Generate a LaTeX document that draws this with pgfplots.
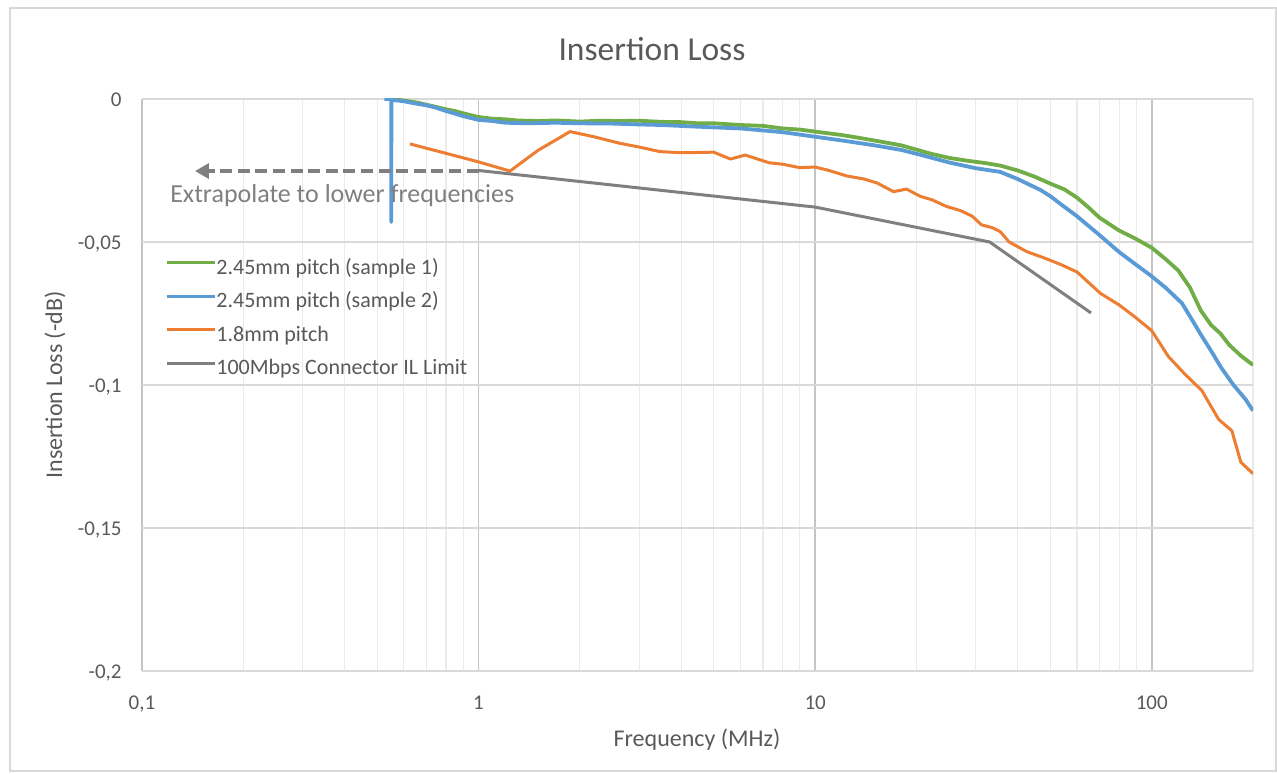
\documentclass[border=0pt]{standalone}
\usepackage{fontspec}
\setmainfont{Carlito}
\usepackage{pgfplots}
\pgfplotsset{compat=1.18}
\usetikzlibrary{arrows.meta}
\definecolor{cgreen}{HTML}{70AD47}
\definecolor{cblue}{HTML}{5B9BD5}
\definecolor{corange}{HTML}{ED7D31}
\definecolor{cgray}{HTML}{7F7F7F}
\definecolor{ctext}{HTML}{595959}
\definecolor{cgridmaj}{HTML}{C4C4C4}
\definecolor{cgridy}{HTML}{D9D9D9}
\definecolor{cgridmin}{HTML}{EBEBEB}
\begin{document}
\begin{tikzpicture}
\useasboundingbox (-71pt,-51.5pt) rectangle (567.5pt,335.5pt);
\draw[color=cgridy, line width=0.6pt] (-66pt,-50pt) rectangle (567pt,331.5pt);
\begin{axis}[
  at={(0pt,0pt)}, anchor=south west,
  scale only axis, width=555.5pt, height=286pt,
  xmode=log, xmin=0.1, xmax=200, ymin=-0.2, ymax=0,
  axis line style={draw=none},
  xtick={0.1,1,10,100}, xticklabels={{0,1},1,10,100},
  minor xtick={0.2,0.3,0.4,0.5,0.6,0.7,0.8,0.9,2,3,4,5,6,7,8,9,20,30,40,50,60,70,80,90,200},
  ytick={-0.2,-0.15,-0.1,-0.05,0},
  yticklabels={{-0,2},{-0,15},{-0,1},{-0,05},0},
  major tick length=0pt, minor tick length=0pt,
  xmajorgrids, xminorgrids, ymajorgrids,
  major x grid style={color=cgridmaj, line width=0.8pt},
  minor x grid style={color=cgridmin, line width=0.6pt},
  major y grid style={color=cgridy, line width=0.8pt},
  tick label style={font=\fontsize{10.5}{12}\selectfont, color=ctext},
  xticklabel style={anchor=base, inner sep=0pt, yshift=-19.5pt},
  yticklabel style={anchor=base east, inner sep=0pt, xshift=-10pt, yshift=-3.6pt},
  legend cell align=left,
  legend image code/.code={\draw[#1, line width=1.5pt] (0pt,3pt) -- (24pt,3pt);},
  legend style={at={(axis description cs:0.0207,0.722)}, anchor=north west,
    draw=none, fill=none, inner sep=0pt,
    font=\fontsize{11}{13}\selectfont, text=ctext, row sep=6.2pt,
    nodes={inner sep=0pt, text height=8pt, text depth=2.5pt},
    every odd column/.style={column sep=2.5pt}},
  every axis plot/.append style={line width=1.5pt, line join=round},
]
\addplot[cgreen, line width=1.9pt] coordinates {
(0.55,0) (0.58,-0.0003) (0.62,-0.0008) (0.66,-0.0013) (0.7,-0.0020) (0.75,-0.0028)
(0.8,-0.0036) (0.85,-0.0042) (0.9,-0.0050) (0.95,-0.0057) (1.0,-0.0063) (1.1,-0.0069)
(1.2,-0.0071) (1.3,-0.0075) (1.5,-0.0077) (1.7,-0.0075) (2.0,-0.0079) (2.3,-0.0076)
(2.6,-0.0077) (3.0,-0.0076) (3.5,-0.0080) (4.0,-0.0081) (4.5,-0.0085) (5.0,-0.0085)
(6.0,-0.0091) (7.0,-0.0094) (8.0,-0.0103) (9.0,-0.0107) (10,-0.0114) (12,-0.0126)
(14,-0.0139) (16,-0.0151) (18,-0.0162) (20,-0.0177) (22,-0.0191) (25,-0.0206)
(28,-0.0215) (32,-0.0224) (35.5,-0.0233) (40,-0.0250) (45,-0.0272) (50,-0.0296)
(55,-0.0316) (60,-0.0345) (65,-0.0380) (70,-0.0415) (80,-0.0460) (90,-0.0490)
(100,-0.0520) (110,-0.0560) (120,-0.0600) (130,-0.0660) (140,-0.0740) (150,-0.0790)
(160,-0.0820) (170,-0.0860) (185,-0.0900) (200,-0.0930)
};
\addlegendentry{2.45mm pitch (sample 1)}
\addplot[cblue, line width=1.9pt] coordinates {
(0.525,0) (0.55,0) (0.55,-0.043) (0.551,-0.0003) (0.6,-0.0008) (0.65,-0.0016)
(0.7,-0.0022) (0.75,-0.0031) (0.8,-0.0042) (0.85,-0.0051) (0.9,-0.0060) (1.0,-0.0073)
(1.1,-0.0077) (1.2,-0.0083) (1.4,-0.0085) (1.7,-0.0083) (2.0,-0.0085) (2.5,-0.0086)
(3.0,-0.0089) (3.5,-0.0091) (4.5,-0.0097) (6.0,-0.0103) (8.0,-0.0116) (10,-0.0132)
(12,-0.0145) (15,-0.0162) (18,-0.0178) (21,-0.0198) (25,-0.0222) (30,-0.0242)
(35.5,-0.0255) (40,-0.0280) (46.7,-0.0318) (50,-0.0340) (54,-0.0370) (60,-0.0410)
(70,-0.0476) (80,-0.0535) (90,-0.0580) (100,-0.0620) (110,-0.0660) (123,-0.0714)
(133,-0.0780) (141,-0.0830) (150,-0.0880) (161,-0.0940) (175,-0.1000) (190,-0.1050)
(200,-0.1090)
};
\addlegendentry{2.45mm pitch (sample 2)}
\addplot[corange] coordinates {
(0.625,-0.0157) (0.8,-0.0190) (1.0,-0.0220) (1.24,-0.0252) (1.5,-0.0180) (1.87,-0.0114)
(2.2,-0.0132) (2.63,-0.0155) (3.0,-0.0168) (3.46,-0.0184) (4.0,-0.0188) (5.0,-0.0186)
(5.6,-0.0210) (6.2,-0.0196) (7.3,-0.0223) (8.0,-0.0228) (9.0,-0.0240) (10,-0.0238)
(11,-0.0250) (12.4,-0.0269) (14,-0.0280) (15.3,-0.0294) (17.1,-0.0324) (18.7,-0.0315)
(20.5,-0.0340) (22.3,-0.0353) (24.6,-0.0376) (27,-0.0390) (29.3,-0.0410) (31.2,-0.0440)
(33.6,-0.0450) (35.5,-0.0464) (37.7,-0.0500) (42.6,-0.0534) (48,-0.0556) (54,-0.0580)
(60,-0.0605) (70.5,-0.0680) (80,-0.0720) (88.7,-0.0760) (100,-0.0810) (112,-0.0900)
(125,-0.0960) (141,-0.1020) (158,-0.1120) (173,-0.1160) (184,-0.1270) (200,-0.1310)
};
\addlegendentry{1.8mm pitch}
\addplot[cgray] coordinates {
(1,-0.0250) (10,-0.0378) (33,-0.0500) (66,-0.0748)
};
\addlegendentry{100Mbps Connector IL Limit}
\draw[cgray, line width=2pt, dash pattern=on 6pt off 2.8pt,
  -{Triangle[length=7pt,width=7.5pt]}] (axis cs:1,-0.0252) -- (axis cs:0.1437,-0.0252);
\node[anchor=west, inner sep=0pt, text=cgray, font=\fontsize{13}{15}\selectfont]
  at (axis cs:0.121,-0.0339) {Extrapolate to lower frequencies};
\end{axis}
\node[text=ctext, font=\fontsize{16.75}{20}\selectfont] at (255pt,311pt) {Insertion Loss};
\node[text=ctext, font=\fontsize{12}{14}\selectfont] at (277.5pt,-34.5pt) {Frequency (MHz)};
\node[text=ctext, font=\fontsize{12}{14}\selectfont, rotate=90] at (-43.5pt,143pt) {Insertion Loss (-dB)};
\end{tikzpicture}
\end{document}
